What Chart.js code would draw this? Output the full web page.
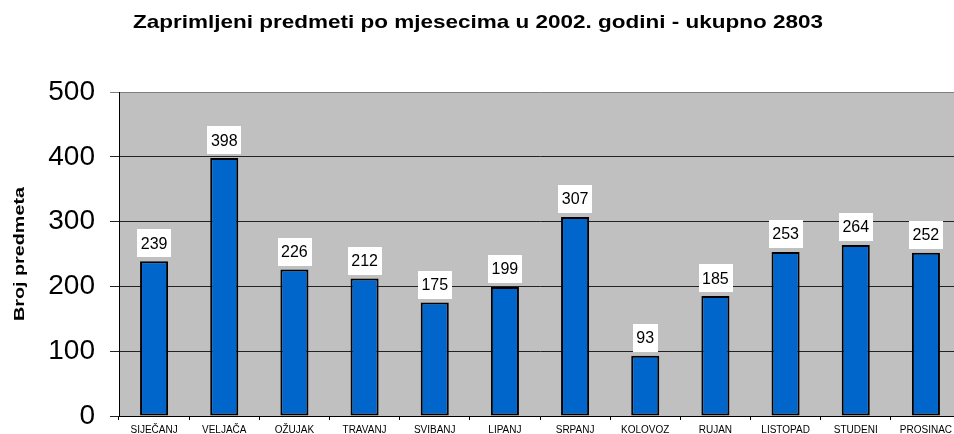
<!DOCTYPE html>
<html><head><meta charset="utf-8">
<script src="https://cdn.jsdelivr.net/npm/chart.js@4/dist/chart.umd.min.js"></script>
<style>html,body{margin:0;padding:0;background:#fff;overflow:hidden}#wrap{width:954px;height:434px;overflow:hidden}canvas{display:block}</style>
</head><body><div id="wrap"><canvas id="c" width="962" height="434" style="width:962px;height:434px"></canvas></div>
<script>
const months = ['SIJEČANJ','VELJAČA','OŽUJAK','TRAVANJ','SVIBANJ','LIPANJ','SRPANJ','KOLOVOZ','RUJAN','LISTOPAD','STUDENI','PROSINAC'];
const counts = [239, 398, 226, 212, 175, 199, 307, 93, 185, 253, 264, 252];
const yMin = 0, yMax = 500, yStep = 100;
const chartTitle = 'Zaprimljeni predmeti po mjesecima u 2002. godini - ukupno 2803';
const yAxisTitle = 'Broj predmeta';

const FONT = "'Liberation Sans', Arial, sans-serif";

const plotBg = {
  id: 'plotBg',
  beforeDraw(chart) {
    const a = chart.chartArea, ctx = chart.ctx;
    ctx.save(); ctx.fillStyle = '#C0C0C0';
    ctx.fillRect(a.left, a.top, a.right - a.left, a.bottom - a.top);
    ctx.restore();
  }
};
const texts = {
  id: 'texts',
  afterDraw(chart) {
    const ctx = chart.ctx, a = chart.chartArea;
    // chart title (horizontally stretched like the original)
    ctx.save();
    ctx.fillStyle = '#000';
    ctx.font = 'bold 19px ' + FONT;
    ctx.textAlign = 'center'; ctx.textBaseline = 'alphabetic';
    const tw = ctx.measureText(chartTitle).width;
    ctx.translate(478, 27.5);
    ctx.scale(690 / tw, 1);
    ctx.fillText(chartTitle, 0, 0);
    ctx.restore();
    // y axis title
    ctx.save();
    ctx.fillStyle = '#000';
    ctx.font = 'bold 15px ' + FONT;
    ctx.textAlign = 'center'; ctx.textBaseline = 'middle';
    const yw = ctx.measureText(yAxisTitle).width;
    ctx.translate(20, (a.top + a.bottom) / 2);
    ctx.rotate(-Math.PI / 2);
    ctx.scale(134 / yw, 1);
    ctx.fillText(yAxisTitle, 0, 0);
    ctx.restore();
  }
};
const valueLabels = {
  id: 'valueLabels',
  afterDatasetsDraw(chart) {
    const ctx = chart.ctx;
    const meta = chart.getDatasetMeta(0);
    ctx.save();
    ctx.font = '16px ' + FONT;
    ctx.textAlign = 'center'; ctx.textBaseline = 'middle';
    meta.data.forEach((bar, i) => {
      const txt = String(chart.data.datasets[0].data[i]);
      const w = ctx.measureText(txt).width + 7, h = 28;
      const bottom = bar.y - 4;
      ctx.fillStyle = '#FFFFFF';
      ctx.fillRect(Math.round(bar.x - w / 2), Math.round(bottom - h), Math.round(w), h);
      ctx.fillStyle = '#000000';
      ctx.fillText(txt, bar.x, bottom - h / 2 + 1);
    });
    ctx.restore();
  }
};

new Chart(document.getElementById('c'), {
  type: 'bar',
  data: {
    labels: months,
    datasets: [{
      data: counts,
      backgroundColor: '#0066CC',
      borderColor: '#000000',
      borderWidth: 2,
      borderSkipped: false,
      barPercentage: 0.4,
      categoryPercentage: 1.0
    }]
  },
  options: {
    responsive: false,
    animation: false,
    devicePixelRatio: 1,
    layout: { padding: { left: 0, right: 1, top: 92, bottom: 0 } },
    plugins: {
      legend: { display: false },
      tooltip: { enabled: false },
      title: { display: false }
    },
    scales: {
      x: {
        offset: true,
        grid: { display: true, drawOnChartArea: false, offset: true, tickLength: 4, color: '#000' },
        border: { color: '#000', width: 1 },
        ticks: { color: '#000', font: { family: FONT, size: 10 }, padding: 4, maxRotation: 0, autoSkip: false },
        afterFit: s => { s.height = 18; }
      },
      y: {
        min: yMin, max: yMax,
        grid: {
          color: c => (c.tick && c.tick.value === yMax) ? '#808080' : '#222',
          tickLength: 9, lineWidth: 1
        },
        border: { color: '#000', width: 1 },
        ticks: { stepSize: yStep, color: '#000', font: { family: FONT, size: 28 }, padding: 15 },
        afterFit: s => { s.width = 119; s.paddingTop = 0; s.paddingBottom = 0; }
      }
    }
  },
  plugins: [plotBg, valueLabels, texts]
});
</script>
</body></html>
